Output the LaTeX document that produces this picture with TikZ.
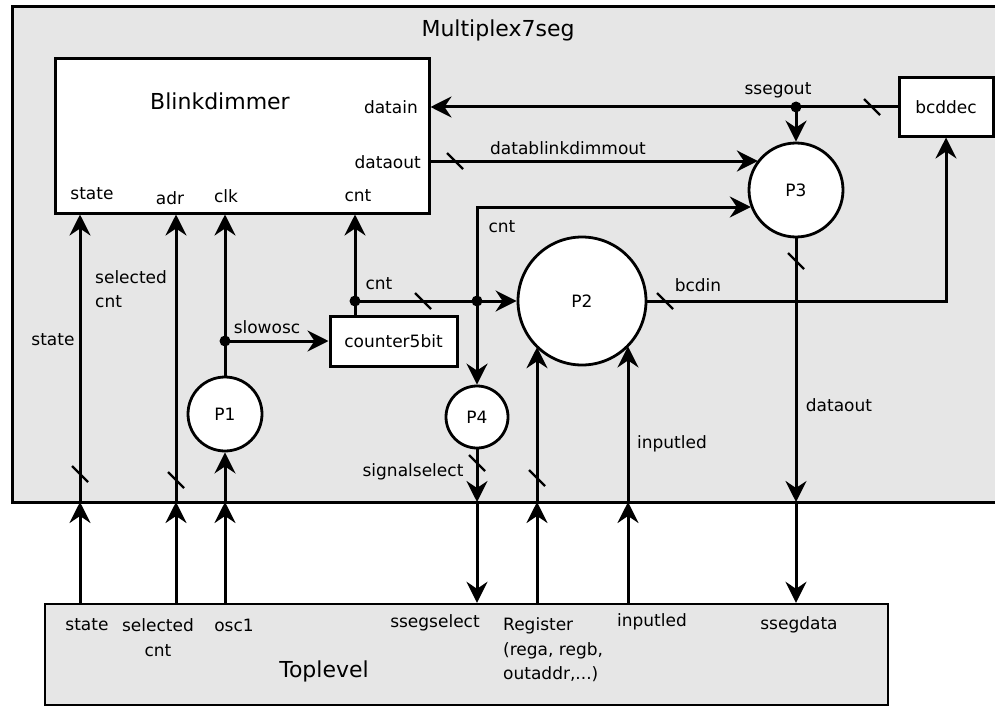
\documentclass[tikz,border=0pt]{standalone}
\usepackage{fontspec}
\setmainfont{DejaVu Sans}
\usetikzlibrary{arrows.meta}
\definecolor{bg}{HTML}{E6E6E6}
\begin{document}
\begin{tikzpicture}[x=1pt,y=-1pt,
  box/.style={draw, line width=3pt, rectangle, fill=white, inner sep=0pt},
  proc/.style={draw, line width=2.8pt, circle, fill=white, inner sep=0pt, font=\fontsize{17}{24.5}\selectfont},
  arr/.style={line width=3pt, -{Stealth[length=21pt,width=21pt,inset=7pt]}},
  biarr/.style={line width=3pt, {Stealth[length=21pt,width=21pt,inset=7pt]}-{Stealth[length=21pt,width=21pt,inset=7pt]}},
  sl/.style={line width=2.4pt},
  dot/.style={circle, fill, inner sep=0pt, minimum size=11pt},
  lab/.style={font=\fontsize{17}{24.5}\selectfont, inner sep=0pt},
  ttl/.style={font=\fontsize{22}{26}\selectfont, inner sep=0pt},
]
\useasboundingbox (0,0) rectangle (995,706);

% containers
\node[box, fill=bg, minimum width=986pt, minimum height=495pt] (mux) at (505,254.5) {};
\node[ttl] (muxt) at (498,30) {Multiplex7seg};
\node[draw, line width=2.4pt, fill=bg, minimum width=843pt, minimum height=101pt] (top) at (466.5,654.5) {};
\node[ttl] (topt) at (324,671) {Toplevel};

% Blinkdimmer
\node[box, minimum width=374pt, minimum height=154pt] (blink) at (242,136) {};
\node[ttl] (blinkt) at (220,101) {Blinkdimmer};
\node[lab, anchor=east] (pdin) at (418,107) {datain};
\node[lab, anchor=east] (pdout) at (421,162) {dataout};
\node[lab] (pstate) at (92,194) {state};
\node[lab] (padr) at (170,198) {adr};
\node[lab] (pclk) at (226,196) {clk};
\node[lab] (pcnt) at (358,196) {cnt};

% other blocks
\node[box, minimum width=94pt, minimum height=58pt, font=\fontsize{17}{24.5}\selectfont] (bcd) at (946,107) {bcddec};
\node[box, minimum width=127pt, minimum height=50pt, font=\fontsize{17}{24.5}\selectfont] (counter) at (393.5,341) {counter5bit};
\node[proc, minimum size=74pt] (P1) at (225,414) {P1};
\node[proc, minimum size=128pt] (P2) at (582,301) {P2};
\node[proc, minimum size=94pt] (P3) at (796,190) {P3};
\node[proc, minimum size=62pt] (P4) at (477,417) {P4};

% border crossing points
\coordinate (xState) at (80,502);
\coordinate (xSel) at (176,502);
\coordinate (xOsc) at (225,502);
\coordinate (xSig) at (477,502);
\coordinate (xReg) at (537,502);
\coordinate (xLed) at (628,502);
\coordinate (xDat) at (796,502);

% state / selected cnt
\draw[arr] (xState |- top.north) -- (xState);
\draw[arr] (xState) -- (xState |- blink.south);
\draw[arr] (xSel |- top.north) -- (xSel);
\draw[arr] (xSel) -- (xSel |- blink.south);

% osc / P1 / slowosc
\coordinate (so) at (225,341);
\draw[arr] (xOsc |- top.north) -- (xOsc);
\draw[arr] (xOsc) -- (P1.south);
\draw[arr] (P1.north) -- (P1.north |- blink.south);
\draw[arr] (so) -- (so -| counter.west);
\node[dot] (sod) at (so) {};

% counter cnt
\coordinate (cd) at (355,301);
\coordinate (cd2) at (477,301);
\draw[arr] (cd |- counter.north) -- (cd |- blink.south);
\draw[arr] (cd) -- (P2.west);
\node[dot] (cdd) at (cd) {};
\node[dot] (cdd2) at (cd2) {};

% cnt to P3 and P4
\coordinate (kc) at (477,207);
\draw[biarr] (kc -| P3.201) -- (kc) -- (P4.north);
\draw[arr] (P4.south) -- (xSig);
\draw[arr] (xSig) -- (xSig |- top.north);

% register / inputled
\draw[arr] (xReg |- top.north) -- (xReg);
\draw[arr] (xReg) -- (xReg |- P2.225);
\draw[arr] (xLed |- top.north) -- (xLed);
\draw[arr] (xLed) -- (xLed |- P2.316);

% bcdin
\draw[arr] (P2.east) -- (P2.east -| bcd.south) -- (bcd.south);

% ssegout
\coordinate (ss) at (796,107);
\draw[arr] (bcd.west) -- (bcd.west -| blink.east);
\node[dot] (ssd) at (ss) {};
\draw[arr] (ss) -- (P3.north);

% datablinkdimmout
\coordinate (dbo) at (429,161);
\draw[arr] (dbo -| blink.east) -- (dbo -| P3.142);

% dataout
\draw[arr] (P3.south) -- (xDat);
\draw[arr] (xDat) -- (xDat |- top.north);

% bus slashes
\foreach \p in {(455,161),(872,107),(423,301),(665,301),(796,261),(80,474),(176,480),(477,463),(537,478)}
  \draw[sl] \p ++(-8,-8) -- ++(16,16);

% labels inside Multiplex7seg
\node[lab] (lssegout) at (778,90) {ssegout};
\node[lab] (ldbo) at (568,148) {datablinkdimmout};
\node[lab] (lcnt1) at (502,227) {cnt};
\node[lab] (lcnt2) at (379,284) {cnt};
\node[lab, anchor=west, align=left] (lsel) at (95,289) {selected\\cnt};
\node[lab] (lstate) at (53,340) {state};
\node[lab] (lslow) at (267,327) {slowosc};
\node[lab] (lsig) at (413,472) {signalselect};
\node[lab] (lbcd) at (698,285) {bcdin};
\node[lab] (ldout) at (839,405) {dataout};
\node[lab] (lled) at (672,444) {inputled};

% labels inside Toplevel
\node[lab] (tstate) at (87,625) {state};
\node[lab, align=center] (tsel) at (158,637.5) {selected\\cnt};
\node[lab] (tosc) at (234,625) {osc1};
\node[lab] (tsseg) at (435,623) {ssegselect};
\node[lab, anchor=west, align=left] (treg) at (503,650) {Register\\(rega, regb,\\outaddr,...)};
\node[lab] (tled) at (652,622) {inputled};
\node[lab] (tdat) at (799,625) {ssegdata};
\end{tikzpicture}
\end{document}
